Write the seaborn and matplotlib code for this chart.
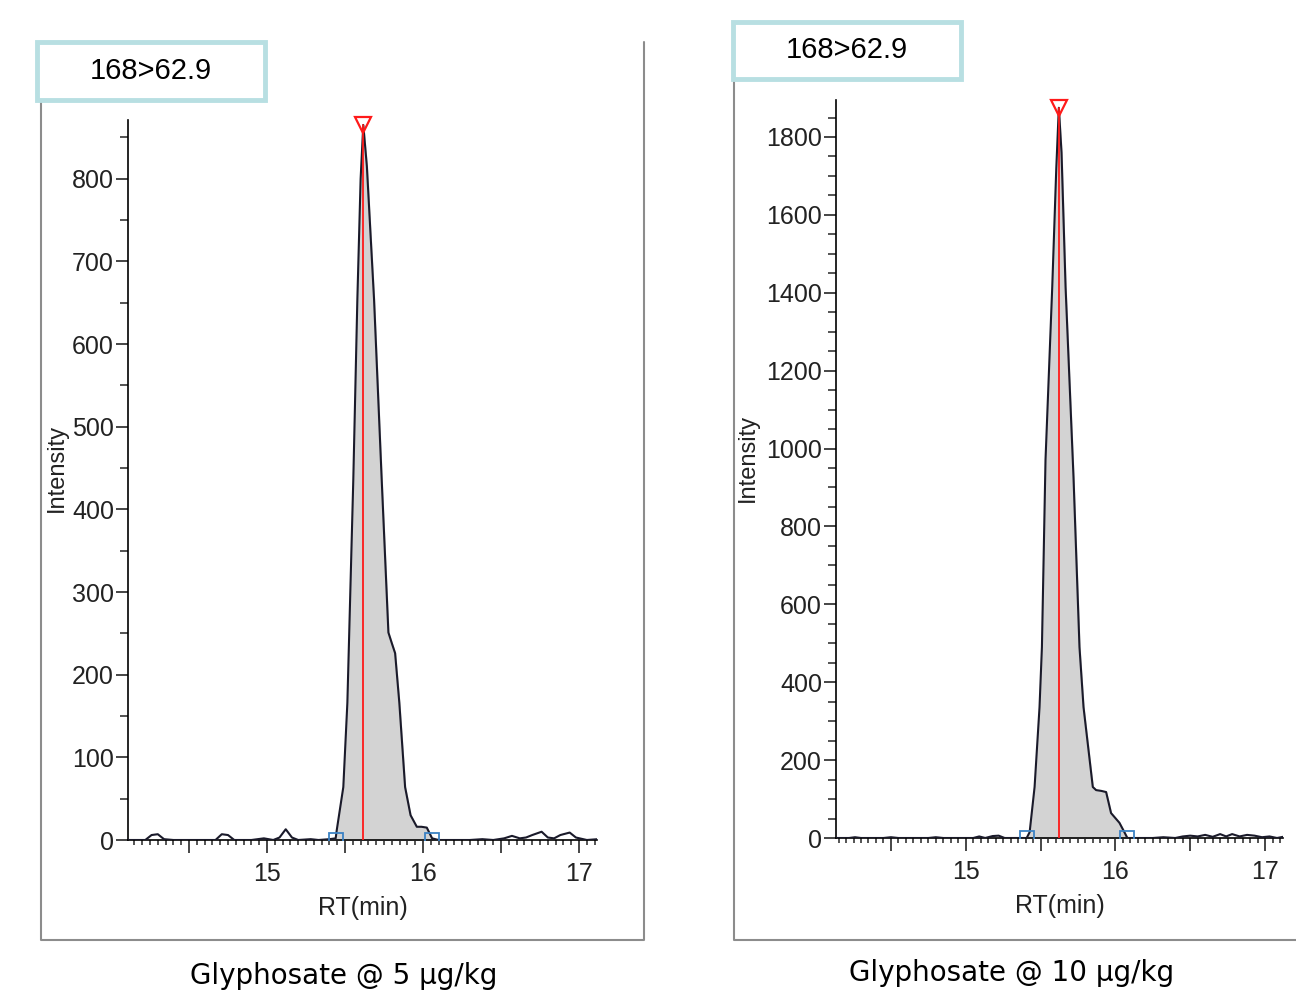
import numpy as np
import pandas as pd
import matplotlib
matplotlib.use("Agg")
import matplotlib.pyplot as plt
import seaborn as sns
from matplotlib.ticker import MultipleLocator, FixedLocator, FuncFormatter
from matplotlib.patches import Rectangle
from matplotlib.lines import Line2D

# --- DATA ---
TRANSITION = "168>62.9"
CAPTION_5 = "Glyphosate @ 5 µg/kg"
CAPTION_10 = "Glyphosate @ 10 µg/kg"

# 5 ug/kg chromatogram
rt_5 = [14.11, 14.22, 14.26, 14.30, 14.34, 14.40, 14.50, 14.60, 14.67, 14.71, 14.75, 14.79,
        14.90, 14.98, 15.04, 15.08, 15.12, 15.16, 15.20, 15.28, 15.33, 15.40,
        15.440, 15.447, 15.489, 15.515, 15.553, 15.579, 15.600, 15.617, 15.640, 15.686,
        15.735, 15.778, 15.800, 15.821, 15.848, 15.885, 15.920, 15.960, 15.990, 16.024,
        16.045, 16.058,
        16.10, 16.20, 16.30, 16.38, 16.45, 16.52, 16.57, 16.62, 16.66, 16.70, 16.76,
        16.80, 16.84, 16.88, 16.94, 16.98, 17.05, 17.12]
int_5 = [0, 0, 6, 7, 1, 0, 0, 0, 0, 7, 6, 0,
         0, 2, 0, 3, 13, 3, 0, 1, 0, 1,
         2, 12, 64, 166, 436, 654, 800, 865, 815, 654,
         436, 251, 238, 226, 166, 64, 30, 16, 16, 15,
         7, 2,
         0, 0, 0, 1, 0, 2, 5, 2, 3, 6, 10,
         3, 2, 6, 9, 3, 0, 1]
start_5, end_5, apex_5 = 15.440, 16.058, 15.617

# 10 ug/kg chromatogram
rt_10 = [14.13, 14.22, 14.26, 14.30, 14.45, 14.50, 14.55, 14.75, 14.80, 14.85, 15.05, 15.09,
         15.13, 15.18, 15.22, 15.26, 15.35,
         15.407, 15.427, 15.460, 15.493, 15.509, 15.533, 15.578, 15.605, 15.622, 15.640,
         15.667, 15.720, 15.760, 15.787, 15.849, 15.871, 15.905, 15.938, 15.971, 16.027,
         16.060, 16.080,
         16.15, 16.25, 16.32, 16.40, 16.45, 16.50, 16.55, 16.60, 16.65, 16.70, 16.74,
         16.78, 16.83, 16.88, 16.93, 16.98, 17.03, 17.08, 17.12]
int_10 = [0, 0, 2, 0, 0, 2, 0, 0, 2, 0, 0, 4,
          0, 5, 6, 0, 0,
          0, 15, 131, 336, 490, 971, 1415, 1720, 1875, 1760,
          1415, 927, 490, 336, 131, 123, 121, 118, 64, 39,
          15, 0,
          0, 0, 2, 0, 4, 6, 4, 8, 3, 10, 4,
          10, 4, 8, 6, 2, 4, 0, 3]
start_10, end_10, apex_10 = 15.407, 16.080, 15.622

W, H = 1296, 994
TICKFONT = ["Liberation Sans", "DejaVu Sans"]

sns.set_style("white")
plt.rcParams["font.family"] = ["Liberation Sans", "DejaVu Sans"]

fig = plt.figure(figsize=(W / 100, H / 100), dpi=100)


def rect(l, t, r, b):
    return [l / W, 1 - b / H, (r - l) / W, (b - t) / H]


def fig_line(xs, ys, **kw):
    fig.add_artist(Line2D([x / W for x in xs], [1 - y / H for y in ys],
                          transform=fig.transFigure, **kw))


def draw_panel(ax, rt, inten, start, end, apex, xlim, ylim, ymajor):
    df = pd.DataFrame({"RT": rt, "Intensity": inten})
    peak = df[(df["RT"] >= start) & (df["RT"] <= end)]
    ax.fill_between(peak["RT"], 0, peak["Intensity"], color="#d3d3d3", zorder=1)
    sns.lineplot(data=df, x="RT", y="Intensity", color="#1a1a2a", linewidth=1.5,
                 ax=ax, zorder=3, sort=False)
    top = df.loc[df["RT"] == apex, "Intensity"].iloc[0]
    ax.plot([apex, apex], [0, top], color="#ff1a1a", linewidth=1.3, zorder=4)
    ax.plot([apex], [top], marker="v", markersize=11, mfc="none", mec="#ff1a1a",
            mew=1.6, zorder=5, clip_on=False)
    ax.plot([start, end], [0, 0], marker="s", markersize=10, linestyle="none",
            mfc="none", mec="#3b82c4", mew=1.3, zorder=5, clip_on=True)

    ax.set_xlim(*xlim)
    ax.set_ylim(*ylim)
    for s in ["top", "right"]:
        ax.spines[s].set_visible(False)
    for s in ["left", "bottom"]:
        ax.spines[s].set_color("black")
        ax.spines[s].set_linewidth(1.2)

    ax.xaxis.set_major_locator(FixedLocator([14.5, 15, 15.5, 16, 16.5, 17]))
    ax.xaxis.set_major_formatter(FuncFormatter(lambda v, p: f"{v:.0f}" if v == int(v) else ""))
    ax.xaxis.set_minor_locator(MultipleLocator(0.05))
    ax.yaxis.set_major_locator(MultipleLocator(ymajor))
    ax.yaxis.set_minor_locator(MultipleLocator(50))
    ax.tick_params(axis="x", which="major", direction="out", length=9, width=1.2,
                   pad=7, labelsize=18, bottom=True)
    ax.tick_params(axis="x", which="minor", direction="out", length=3.5, width=1.1, bottom=True)
    ax.tick_params(axis="y", which="major", direction="out", length=9, width=1.2,
                   pad=1, labelsize=18, left=True)
    ax.tick_params(axis="y", which="minor", direction="out", length=6, width=1.1, left=True)
    for lab in ax.get_xticklabels() + ax.get_yticklabels():
        lab.set_family(TICKFONT)
        lab.set_color("#222222")
    ax.set_xlabel("RT(min)", fontsize=18, color="#222222", labelpad=7)
    ax.set_ylabel("Intensity", fontsize=17, color="#222222")
    ax.set_facecolor("white")


# left panel
ax1 = fig.add_axes(rect(128, 120, 597, 840))
draw_panel(ax1, rt_5, int_5, start_5, end_5, apex_5, (14.109, 17.115), (0, 871), 100)
ax1.yaxis.set_label_coords(-0.128, 0.517)

# right panel
ax2 = fig.add_axes(rect(836, 100, 1283, 838))
draw_panel(ax2, rt_10, int_10, start_10, end_10, apex_10, (14.133, 17.12), (0, 1895), 200)
ax2.yaxis.set_label_coords(-0.172, 0.515)

# outer frames
frame_col = "#8c8c8c"
fig_line([41, 41, 644, 644], [100, 940, 940, 42], color=frame_col, linewidth=1.5)
fig_line([734, 734, 1296], [80, 940, 940], color=frame_col, linewidth=1.5)

# transition boxes
for (l, t, r, b) in [(37, 42, 265, 100), (733, 22, 961, 79)]:
    fig.add_artist(Rectangle((l / W, 1 - b / H), (r - l) / W, (b - t) / H,
                             transform=fig.transFigure, facecolor="white",
                             edgecolor="#b8dfe2", linewidth=3.5, zorder=10))
    fig.text((l + r) / 2 / W, 1 - (t + b) / 2 / H, TRANSITION, ha="center", va="center",
             fontsize=21, color="black", zorder=11)

# captions
fig.text(344 / W, 1 - 976 / H, CAPTION_5, ha="center", va="center", fontsize=20,
         family=["DejaVu Sans"], color="black")
fig.text(1012 / W, 1 - 973 / H, CAPTION_10, ha="center", va="center", fontsize=20,
         family=["DejaVu Sans"], color="black")

fig.savefig("out.png", dpi=100, facecolor="white")
